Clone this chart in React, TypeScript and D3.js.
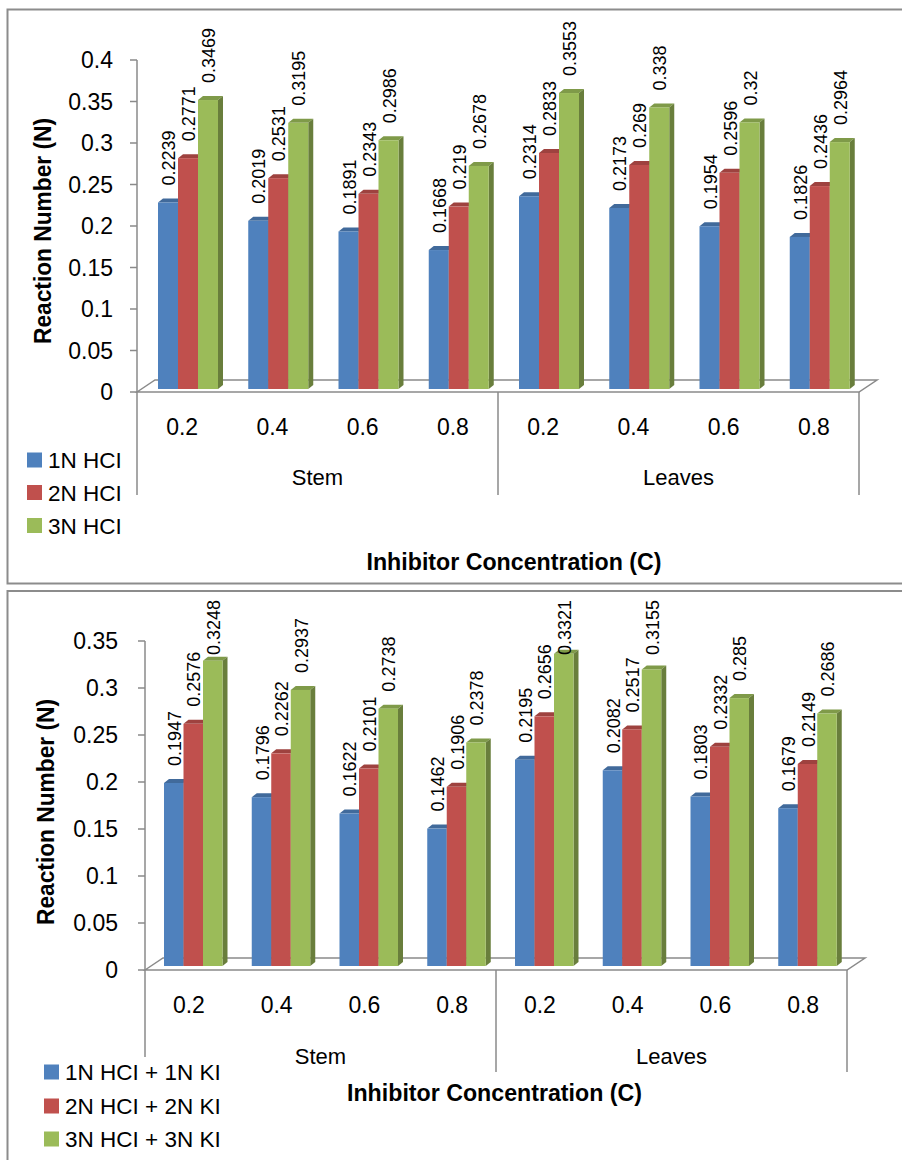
import React from "react";
import * as d3 from "d3";

// ---------- DATA ----------
const categories = ["0.2", "0.4", "0.6", "0.8", "0.2", "0.4", "0.6", "0.8"];
const groups = ["Stem", "Leaves"];

const hclSeries = ["1N HCI", "2N HCI", "3N HCI"];
const hcl1N = [0.2239, 0.2019, 0.1891, 0.1668, 0.2314, 0.2173, 0.1954, 0.1826];
const hcl2N = [0.2771, 0.2531, 0.2343, 0.219, 0.2833, 0.269, 0.2596, 0.2436];
const hcl3N = [0.3469, 0.3195, 0.2986, 0.2678, 0.3553, 0.338, 0.32, 0.2964];

const kiSeries = ["1N HCI + 1N KI", "2N HCI + 2N KI", "3N HCI + 3N KI"];
const ki1N = [0.1947, 0.1796, 0.1622, 0.1462, 0.2195, 0.2082, 0.1803, 0.1679];
const ki2N = [0.2576, 0.2262, 0.2101, 0.1906, 0.2656, 0.2517, 0.2332, 0.2149];
const ki3N = [0.3248, 0.2937, 0.2738, 0.2378, 0.3321, 0.3155, 0.285, 0.2686];

const yTicksTop = [0, 0.05, 0.1, 0.15, 0.2, 0.25, 0.3, 0.35, 0.4];
const yTicksBottom = [0, 0.05, 0.1, 0.15, 0.2, 0.25, 0.3, 0.35];

const yTitle = "Reaction Number (N)";
const xTitle = "Inhibitor Concentration (C)";

const colors = ["#4F81BD", "#C0504D", "#9BBB59"];

const FONT = "'Liberation Sans', Arial, sans-serif";
const AXIS = "#8a8a8a";

type ChartCfg = {
  frame: [number, number, number, number];
  x0: number; x1: number;
  yTick0: number; yTickTop: number; yMax: number;
  base: number; pxPerUnit: number;
  barOff: number; barW: number;
  floorDx: number; floorDy: number;
  sepBottom: number; leftSepBottom: number;
  tickLabelRight: number;
  catY: number; groupY: number;
  xTitleX: number; xTitleY: number;
  yTitleX: number; yTitleY: number;
  legendX: number; legendYs: number[]; legendBg: null | [number, number, number, number];
  labelMinTop: number;
};

function labelLen(s: string) {
  let w = 0;
  for (const ch of s) w += ch === "." ? 0.278 : 0.556;
  return w * 18;
}

function Chart({ cfg, series, values, ticks }: { cfg: ChartCfg; series: string[]; values: number[][]; ticks: number[] }) {
  const xBand = d3.scaleBand<number>().domain(d3.range(categories.length)).range([cfg.x0, cfg.x1]).paddingInner(0).paddingOuter(0);
  const yAxis = d3.scaleLinear().domain([0, cfg.yMax]).range([cfg.yTick0, cfg.yTickTop]);
  const yBar = d3.scaleLinear().domain([0, 1]).range([cfg.base, cfg.base - cfg.pxPerUnit]);
  const groupScale = d3.scaleBand<number>().domain([0, 1]).range([cfg.x0, cfg.x1]);
  const dx = 5, dy = 4;
  const yF = cfg.yTick0;
  const fdx = cfg.floorDx, fdy = cfg.floorDy;
  const [fx, fy, fw, fh] = cfg.frame;

  return (
    <g>
      <rect x={fx} y={fy} width={fw} height={fh} fill="#fff" stroke="#8c8c8c" strokeWidth={2} />
      {/* floor */}
      <polygon
        points={`${cfg.x0},${yF} ${cfg.x0 + fdx},${yF - fdy} ${cfg.x1 + fdx},${yF - fdy} ${cfg.x1},${yF}`}
        fill="#fff" stroke={AXIS} strokeWidth={1.5}
      />
      {/* y axis line */}
      <line x1={cfg.x0} x2={cfg.x0} y1={cfg.yTickTop} y2={cfg.leftSepBottom} stroke={AXIS} strokeWidth={1.5} />
      {ticks.map((t) => (
        <g key={t}>
          <line x1={cfg.x0 - 7} x2={cfg.x0} y1={yAxis(t)} y2={yAxis(t)} stroke={AXIS} strokeWidth={1.5} />
          <text x={cfg.tickLabelRight} y={yAxis(t)} dy="0.36em" textAnchor="end" fontSize={23} fontFamily={FONT} fill="#000">
            {String(+t.toFixed(2))}
          </text>
        </g>
      ))}
      {/* separators */}
      {[4, 8].map((i) => {
        const x = i === 8 ? cfg.x1 : (xBand(i) as number);
        return <line key={i} x1={x} x2={x} y1={yF} y2={cfg.sepBottom} stroke={AXIS} strokeWidth={1.5} />;
      })}
      {/* bars */}
      {categories.map((c, i) => {
        const bx = d3.scaleBand<number>().domain([0, 1, 2]).range([(xBand(i) as number) + cfg.barOff, (xBand(i) as number) + cfg.barOff + 3 * cfg.barW]);
        return (
          <g key={i}>
            {series.map((s, k) => {
              const v = values[k][i];
              const x = bx(k) as number;
              const w = bx.bandwidth();
              const yt = yBar(v);
              const col = d3.color(colors[k])!;
              return (
                <g key={s}>
                  <polygon points={`${x},${yt} ${x + dx},${yt - dy} ${x + w + dx},${yt - dy} ${x + w},${yt}`} fill={col.darker(0.55).toString()} />
                  <polygon points={`${x + w},${yt} ${x + w + dx},${yt - dy} ${x + w + dx},${cfg.base - dy} ${x + w},${cfg.base}`} fill={col.darker(1.1).toString()} />
                  <rect x={x} y={yt} width={w} height={cfg.base - yt} fill={colors[k]} />
                </g>
              );
            })}
            {series.map((s, k) => {
              const v = values[k][i];
              const x = bx(k) as number;
              const w = bx.bandwidth();
              const label = String(v);
              const len = labelLen(label);
              const start = Math.max(yBar(v) - 17, cfg.labelMinTop + len);
              return (
                <text key={"l" + s} transform={`translate(${x + w / 2 + 7},${start}) rotate(-90)`} fontSize={18} fontFamily={FONT} fill="#000">
                  {label}
                </text>
              );
            })}
            <text x={(xBand(i) as number) + xBand.bandwidth() / 2} y={cfg.catY} textAnchor="middle" fontSize={23} fontFamily={FONT} fill="#000">
              {c}
            </text>
          </g>
        );
      })}
      {groups.map((g, gi) => (
        <text key={g} x={(groupScale(gi) as number) + groupScale.bandwidth() / 2} y={cfg.groupY} textAnchor="middle" fontSize={22} fontFamily={FONT} fill="#000">
          {g}
        </text>
      ))}
      <text x={cfg.xTitleX} y={cfg.xTitleY} textAnchor="middle" fontSize={24} fontWeight="bold" fontFamily={FONT} textLength={295} lengthAdjust="spacingAndGlyphs" fill="#000">
        {xTitle}
      </text>
      <text transform={`translate(${cfg.yTitleX},${cfg.yTitleY}) rotate(-90)`} textAnchor="middle" fontSize={23} fontWeight="bold" fontFamily={FONT} textLength={226} lengthAdjust="spacingAndGlyphs" fill="#000">
        {yTitle}
      </text>
      {/* legend */}
      {cfg.legendBg && (
        <rect x={cfg.legendBg[0]} y={cfg.legendBg[1]} width={cfg.legendBg[2]} height={cfg.legendBg[3]} fill="#fff" />
      )}
      {series.map((s, k) => (
        <g key={"lg" + s}>
          <rect x={cfg.legendX} y={cfg.legendYs[k] - 7.5} width={15} height={15} fill={colors[k]} />
          <text x={cfg.legendX + 21} y={cfg.legendYs[k] + 8} fontSize={22.5} fontFamily={FONT} fill="#000">
            {s}
          </text>
        </g>
      ))}
    </g>
  );
}

const topCfg: ChartCfg = {
  frame: [7.5, 9.5, 900, 574],
  x0: 137, x1: 859,
  yTick0: 392, yTickTop: 60, yMax: 0.4,
  base: 389, pxPerUnit: 833,
  barOff: 21, barW: 20,
  floorDx: 18, floorDy: 12,
  sepBottom: 495, leftSepBottom: 495,
  tickLabelRight: 113,
  catY: 435, groupY: 485,
  xTitleX: 514, xTitleY: 570,
  yTitleX: 51, yTitleY: 231,
  legendX: 27, legendYs: [460, 492.5, 525.5], legendBg: null,
  labelMinTop: 18,
};

const bottomCfg: ChartCfg = {
  frame: [7.5, 591, 900, 600],
  x0: 145, x1: 847,
  yTick0: 970, yTickTop: 641, yMax: 0.35,
  base: 966, pxPerUnit: 940,
  barOff: 19, barW: 19.5,
  floorDx: 18, floorDy: 12,
  sepBottom: 1072, leftSepBottom: 1072,
  tickLabelRight: 118,
  catY: 1013, groupY: 1064,
  xTitleX: 494.5, xTitleY: 1101,
  yTitleX: 54, yTitleY: 812,
  legendX: 44, legendYs: [1072, 1106, 1139], legendBg: [38, 1057, 190, 100],
  labelMinTop: 600,
};

export default function App() {
  return (
    <svg width={902} height={1160} style={{ position: "absolute", left: 0, top: 0, background: "#fff" }}>
      <rect x={0} y={0} width={902} height={1160} fill="#fff" />
      <Chart cfg={topCfg} series={hclSeries} values={[hcl1N, hcl2N, hcl3N]} ticks={yTicksTop} />
      <Chart cfg={bottomCfg} series={kiSeries} values={[ki1N, ki2N, ki3N]} ticks={yTicksBottom} />
    </svg>
  );
}
